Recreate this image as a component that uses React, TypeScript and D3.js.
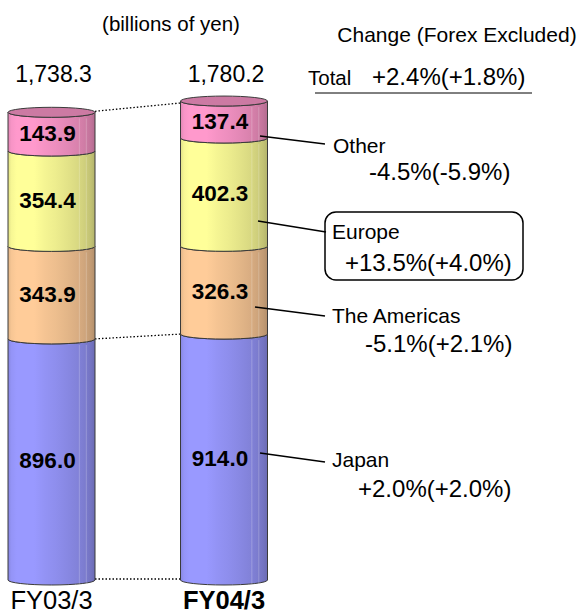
import React from "react";
import * as d3 from "d3";

const years = ["FY03/3", "FY04/3"];
const regions = ["Japan", "The Americas", "Europe", "Other"];
const japan = [896.0, 914.0];
const americas = [343.9, 326.3];
const europe = [354.4, 402.3];
const other = [143.9, 137.4];
const totals = [1738.3, 1780.2];
const regionColors = ["#9999FF", "#FFCC99", "#FFFF99", "#FF99CC"];
const changeLabels = ["+2.0%(+2.0%)", "-5.1%(+2.1%)", "+13.5%(+4.0%)", "-4.5%(-5.9%)"];
const totalChange = "+2.4%(+1.8%)";

// layout of annotations (not data)
const annLayout = [
  { sx: 260, sy: 453, ex: 325, ey: 462, nx: 332, ny: 467, vx: 358, vy: 497 },
  { sx: 255, sy: 307, ex: 325, ey: 316, nx: 332, ny: 323, vx: 365, vy: 352 },
  { sx: 258, sy: 221, ex: 326, ey: 232, nx: 332, ny: 239, vx: 345, vy: 271 },
  { sx: 260, sy: 136, ex: 325, ey: 144, nx: 333, ny: 153, vx: 369, vy: 180 },
];

const FONT = "'Liberation Sans', Arial, Helvetica, sans-serif";

export default function App() {
  const rows = years.map((y, i) => ({
    year: y,
    Japan: japan[i],
    "The Americas": americas[i],
    Europe: europe[i],
    Other: other[i],
  }));
  const stack = d3.stack<any>().keys(regions)(rows);

  const x = d3.scalePoint<string>().domain(years).range([51.5, 224]);
  const half = 43.5;
  const y = d3.scaleLinear().domain([0, 1780.2]).range([580, 101]);
  const ry = 5;

  const mix = (c: string, k: number) => d3.interpolateRgb(c, "#000")(k);
  const facets: [number, number][] = [
    [0, 0.12], [0.04, 0.03], [0.1, 0], [0.3, 0], [0.42, 0.04], [0.55, 0.07],
    [0.68, 0.11], [0.8, 0.15], [0.88, 0.19], [0.95, 0.24], [1, 0.3],
  ];

  const segPath = (x0: number, x1: number, yt: number, yb: number, rx: number) =>
    `M${x0},${yt} A${rx},${ry} 0 0 0 ${x1},${yt} L${x1},${yb} A${rx},${ry} 0 0 1 ${x0},${yb} Z`;

  return (
    <svg
      width={584}
      height={616}
      style={{ position: "absolute", left: 0, top: 0, background: "#fff" }}
      fontFamily={FONT}
    >
      <defs>
        {regionColors.map((c, ci) => (
          <linearGradient key={ci} id={`g${ci}`} x1="0" x2="1" y1="0" y2="0">
            {facets.map(([o, k], fi) => (
              <stop key={fi} offset={o} stopColor={mix(c, k)} />
            ))}
          </linearGradient>
        ))}
      </defs>

      <text x={171} y={31} fontSize={20.5} textAnchor="middle">(billions of yen)</text>

      {/* dotted connectors */}
      {(() => {
        const xa = (x(years[0]) as number) + half;
        const xb = (x(years[1]) as number) - half;
        const lines = [
          [y(totals[0]) - 1, y(totals[1]) + 2],
          [y(japan[0]), y(japan[1])],
          [y(0) - 1, y(0) - 1],
        ];
        return lines.map(([ya, yb], i) => (
          <line key={i} x1={xa} y1={ya} x2={xb} y2={yb} stroke="#000" strokeWidth={1.3} strokeDasharray="1.5,2" />
        ));
      })()}

      {years.map((yr, bi) => {
        const cx = x(yr) as number;
        const x0 = cx - half;
        const x1 = cx + half;
        const topLayer = stack[stack.length - 1];
        const yTop = y(topLayer[bi][1]);
        return (
          <g key={yr}>
            {stack.map((layer, li) => {
              const d = layer[bi];
              const yt = y(d[1]);
              const yb = y(d[0]);
              return (
                <g key={li}>
                  <path d={segPath(x0, x1, yt, yb, half)} fill={`url(#g${li})`} stroke="#3a3a3a" strokeWidth={1} />
                  {[0.82, 0.9].map((f, k) => (
                    <line key={k} x1={x0 + f * 2 * half} x2={x0 + f * 2 * half} y1={yt + ry + 1} y2={yb + ry - 1} stroke="#fff" strokeOpacity={0.22} strokeWidth={1} />
                  ))}
                </g>
              );
            })}
            <ellipse cx={cx} cy={yTop} rx={half} ry={ry} fill={mix(regionColors[3], 0.2)} stroke="#3a3a3a" strokeWidth={1} />
            {stack.map((layer, li) => {
              const d = layer[bi];
              const mid = (y(d[1]) + y(d[0])) / 2;
              return (
                <text key={li} x={cx - 4} y={mid + 9} fontSize={22.5} fontWeight="bold" textAnchor="middle">
                  {d3.format(".1f")(d[1] - d[0])}
                </text>
              );
            })}
            <text x={cx + 2} y={82} fontSize={23} textAnchor="middle">{d3.format(",.1f")(totals[bi])}</text>
            <text x={cx} y={609} fontSize={25.5} fontWeight={bi === 1 ? "bold" : "normal"} textAnchor="middle">{yr}</text>
          </g>
        );
      })}

      <text x={457} y={42} fontSize={21} textAnchor="middle">Change (Forex Excluded)</text>
      <text x={308} y={85} fontSize={20.5}>Total</text>
      <text x={372} y={85} fontSize={24}>{totalChange}</text>
      <line x1={315} x2={532} y1={93} y2={93} stroke="#000" strokeWidth={1} />

      <rect x={325} y={212} width={198} height={68} rx={11} fill="none" stroke="#000" strokeWidth={1.5} />

      {regions.map((r, i) => {
        const a = annLayout[i];
        return (
          <g key={r}>
            <line x1={a.sx} y1={a.sy} x2={a.ex} y2={a.ey} stroke="#000" strokeWidth={1.5} />
            <text x={a.nx} y={a.ny} fontSize={21}>{r}</text>
            <text x={a.vx} y={a.vy} fontSize={24}>{changeLabels[i]}</text>
          </g>
        );
      })}
    </svg>
  );
}
